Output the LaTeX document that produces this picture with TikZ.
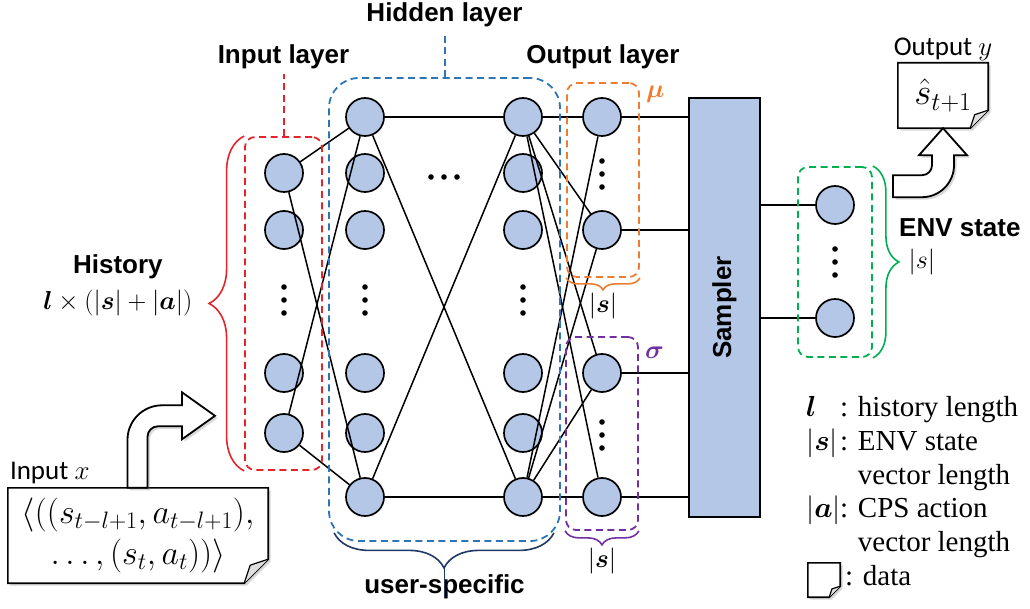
\RequirePackage{fix-cm}
\documentclass[tikz,border=0pt]{standalone}
\usepackage{amsmath}
\usepackage{fontspec}
\setmainfont{Liberation Serif}
\setsansfont{Liberation Sans}
\newfontfamily\calibrifont{Carlito}
\usepackage{tikz}
\usetikzlibrary{
  positioning, backgrounds, fit,
  decorations.pathreplacing, shadows
}
\definecolor{cNode}{HTML}{B4C7E7}
\definecolor{cRed}{HTML}{E3242B}
\definecolor{cBlue}{HTML}{2E75B6}
\definecolor{cNavy}{HTML}{1F3864}
\definecolor{cOrange}{HTML}{ED7D31}
\definecolor{cPurple}{HTML}{7030A0}
\definecolor{cGreen}{HTML}{00B050}
\tikzset{
  neuron/.style={
    circle, draw=black, line width=1.7pt, fill=cNode,
    minimum size=38pt, inner sep=0pt
  },
  link/.style={line width=1.5pt, color=black},
  zone/.style={
    rectangle, rounded corners=10pt, draw=#1, line width=1.8pt,
    dash pattern=on 7pt off 4.5pt, inner sep=0pt
  },
  brc/.style={decorate, decoration={brace, amplitude=#1}, line width=1.6pt},
  lbl/.style={font=\sffamily\bfseries\fontsize{26}{30}\selectfont, inner sep=4pt},
  mathlbl/.style={font=\fontsize{26}{30}\selectfont, inner sep=1pt},
  keytxt/.style={font=\fontsize{29}{34}\selectfont, inner sep=0pt},
  iotxt/.style={font=\calibrifont\fontsize{27}{32}\selectfont, inner sep=1pt},
  doctxt/.style={
    rectangle, inner sep=0pt, align=center,
    font=\fontsize{34}{41}\selectfont
  },
  docline/.style={
    draw=black, line width=1.6pt, fill=white,
    drop shadow={shadow xshift=2.5pt, shadow yshift=-2.5pt, opacity=0.3}
  },
  foldline/.style={draw=black, line width=1.2pt, fill=gray!25},
  hollow/.style={
    draw=black, line width=1.8pt, fill=white,
    drop shadow={shadow xshift=2.5pt, shadow yshift=-2.5pt, opacity=0.3}
  },
}

\begin{document}
\begin{tikzpicture}[x=1pt, y=1pt]
  \useasboundingbox (0,0) rectangle (1030,608);

  \foreach \n/\y in {1/435, 2/378, 3/235, 4/175}
    \node[neuron] (in\n) at (284,\y) {};
  \foreach \n/\y in {1/491, 2/435, 3/378, 4/235, 5/175, 6/111} {
    \node[neuron] (ha\n) at (365,\y) {};
    \node[neuron] (hb\n) at (523,\y) {};
  }
  \foreach \n/\y in {mu1/491, mu2/378, sg1/235, sg2/111}
    \node[neuron] (\n) at (602,\y) {};
  \node[neuron] (env1) at (835,403) {};
  \node[neuron] (env2) at (835,290) {};

  \foreach \x/\y in {284/308, 365/308, 523/308, 602/434, 602/173, 835/346}
    \foreach \d in {-13,0,13}
      \fill (\x,\y+\d) circle (2.8);
  \foreach \d in {-13,0,13}
    \fill (444+\d,431) circle (2.8);

  \node[draw=black, line width=2pt, fill=cNode, minimum width=71pt,
        minimum height=419pt, inner sep=0pt] (smp) at (724.5,300.5) {};
  \node[lbl, rotate=90] (smplbl) at (smp) {Sampler};

  \foreach \a in {in1, in4}
    \foreach \b in {ha1, ha6}
      \draw[link] (\a) -- (\b);
  \foreach \a in {ha1, ha6}
    \foreach \b in {hb1, hb6}
      \draw[link] (\a) -- (\b);
  \foreach \a in {hb1, hb6}
    \foreach \b in {mu1, mu2, sg1, sg2}
      \draw[link] (\a) -- (\b);
  \foreach \b in {mu1, mu2, sg1, sg2}
    \draw[link] (\b) -- (\b -| smp.west);
  \foreach \b in {env1, env2}
    \draw[link] (\b -| smp.east) -- (\b);

  \node[zone=cRed, fit={(245,138) (322,471)}] (inbox) {};
  \node[zone=cBlue, rounded corners=30pt, fit={(329,67) (560,530)}] (hidbox) {};
  \node[zone=cOrange, fit={(567,331) (639,525)}] (mubox) {};
  \node[zone=cPurple, fit={(566,78) (638,271)}] (sgbox) {};
  \node[zone=cGreen, fit={(798,251) (872,441)}] (envbox) {};

  \node[lbl, above=62.5pt of inbox] (inlbl) {Input layer};
  \node[lbl, above=45.5pt of hidbox] (hidlbl) {Hidden layer};
  \node[lbl, above=8.5pt of mubox] (outlbl) {Output layer};
  \node[lbl, below=29pt of hidbox] (usrlbl) {user-specific};
  \draw[draw=cRed, line width=2pt, dash pattern=on 7pt off 4.5pt] (inbox.north) -- (inlbl.south);
  \draw[draw=cBlue, line width=2pt, dash pattern=on 7pt off 4.5pt] (hidbox.north) -- (hidlbl.south);

  \node[mathlbl, text=cOrange, below right=3pt and 5pt of mubox.north east] (mulbl) {$\boldsymbol{\mu}$};
  \node[mathlbl, text=cPurple, below right=10pt and 5pt of sgbox.north east] (sglbl) {$\boldsymbol{\sigma}$};

  \draw[brc=35, cRed] (inbox.south west) -- (inbox.north west)
    node[midway, left=50pt, mathlbl, text=black] (histdim)
    {$\boldsymbol{l}\times(|\boldsymbol{s}|+|\boldsymbol{a}|)$};
  \node[lbl, above=6pt of histdim] (hist) {History};

  \draw[brc=35, cNavy] ([shift={(-7,9)}]hidbox.south east) -- ([shift={(6,9)}]hidbox.south west);
  \draw[cNavy, line width=1.6pt] ([yshift=-26]hidbox.south) -- ++(0,-30);

  \draw[brc=12, cOrange] (mubox.south east) -- (mubox.south west)
    node[midway, below=13pt, mathlbl, text=black] (musize) {$|\boldsymbol{s}|$};
  \draw[brc=14, cPurple] (sgbox.south east) -- (sgbox.south west)
    node[midway, below=15pt, mathlbl, text=black] (sgsize) {$|\boldsymbol{s}|$};
  \draw[brc=26, cGreen] (envbox.north east) -- (envbox.south east)
    node[midway, right=34pt, mathlbl, text=black] (envsize) {$|s|$};
  \node[lbl, anchor=base west] (envlbl) at (895,371) {ENV state};

  \node[doctxt, minimum width=260pt, minimum height=95pt] (inx) at (138,72.5)
    {$\langle((s_{t-l+1},a_{t-l+1}),$\\$\dots,(s_t,a_t))\rangle$};
  \node[iotxt, above right=3pt and 1pt of inx.north west] (inxlbl) {Input $x$};

  \node[doctxt, font=\fontsize{37}{40}\selectfont, minimum width=90pt,
        minimum height=65pt] (outy) at (943,512.5) {$\hat{s}_{t+1}$};
  \node[iotxt, above=1pt of outy] (outylbl) {Output $y$};

  \path[hollow] ([xshift=-10.5]inx.north) -- ++(0,48)
    arc[start angle=180, end angle=90, radius=34.5] -- ++(20,0) -- ++(0,13)
    -- ++(33,-23.5) -- ++(-33,-23.5) -- ++(0,13) -- ++(-24,0)
    arc[start angle=90, end angle=180, radius=10.5] -- ++(0,-51) -- cycle;
  \path[hollow] (outy.south) -- ++(24,-27) -- ++(-13,0) -- ++(0,-10)
    arc[start angle=0, end angle=-90, radius=32] -- ++(-29,0) -- ++(0,22)
    -- ++(29,0) arc[start angle=270, end angle=360, radius=10]
    -- ++(0,10) -- ++(-13,0) -- cycle;

  \foreach \sym/\txt [count=\i from 0] in {
      {$\boldsymbol{l}$}/{: history length},
      {$|\boldsymbol{s}|$}/{: ENV state},
      {}/{\phantom{: }vector length},
      {$|\boldsymbol{a}|$}/{: CPS action},
      {}/{\phantom{: }vector length}}
    \node[keytxt, anchor=base west] (key\i) at (806,191-33.6*\i) {\makebox[34pt][l]{\sym}\txt};
  \node[minimum width=32pt, minimum height=34pt, inner sep=0pt] (dkey) at (824,28) {};
  \node[keytxt, anchor=base west] (dkeytxt) at (845,23) {: data};

  \begin{scope}[on background layer]
    \foreach \dn/\fl in {inx/24, outy/18, dkey/11} {
      \path[docline] (\dn.north west) -- (\dn.north east) -- ([yshift=\fl]\dn.south east)
        -- ([xshift=-\fl]\dn.south east) -- (\dn.south west) -- cycle;
      \path[foldline] ([yshift=\fl]\dn.south east) -- ([shift={(-0.75*\fl,0.75*\fl)}]\dn.south east)
        -- ([xshift=-\fl]\dn.south east);
    }
  \end{scope}

\end{tikzpicture}
\end{document}
